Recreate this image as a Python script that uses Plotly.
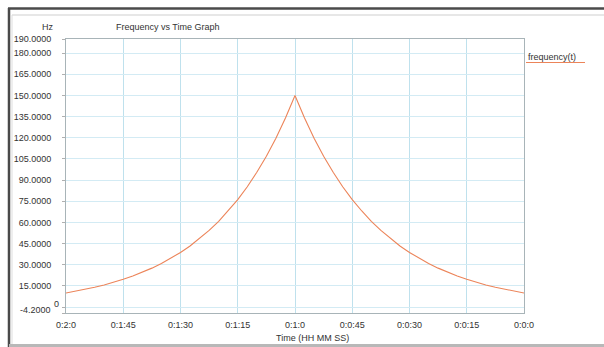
import plotly.graph_objects as go

# ---- data ----
time_s = [0, 2.5, 5, 7.5, 10, 12.5, 15, 17.5, 20, 22.5, 25, 27.5, 30, 32.5, 35, 37.5,
          40, 42.5, 45, 47.5, 50, 52.5, 55, 57.5, 60, 62.5, 65, 67.5, 70, 72.5, 75,
          77.5, 80, 82.5, 85, 87.5, 90, 92.5, 95, 97.5, 100, 102.5, 105, 107.5, 110,
          112.5, 115, 117.5, 120]
freq_hz = [10.0, 11.2, 12.5, 14.0, 15.7, 17.6, 19.7, 22.0, 24.6, 27.6, 30.9, 34.6,
           38.7, 43.3, 48.5, 54.3, 60.8, 68.1, 76.2, 85.3, 95.5, 106.9, 119.7, 134.0,
           150.0, 134.0, 119.7, 106.9, 95.5, 85.3, 76.2, 68.1, 60.8, 54.3, 48.5, 43.3,
           38.7, 34.6, 30.9, 27.6, 24.6, 22.0, 19.7, 17.6, 15.7, 14.0, 12.5, 11.2, 10.0]
x_tick_vals = [0, 15, 30, 45, 60, 75, 90, 105, 120]
x_tick_text = ["0:0:0", "0:0:15", "0:0:30", "0:0:45", "0:1:0", "0:1:15", "0:1:30", "0:1:45", "0:2:0"]
y_tick_vals = [190, 180, 165, 150, 135, 120, 105, 90, 75, 60, 45, 30, 15, 0, -4.2]
y_tick_text = ["190.0000", "180.0000", "165.0000", "150.0000", "135.0000", "120.0000",
               "105.0000", "90.0000", "75.0000", "60.0000", "45.0000", "30.0000",
               "15.0000", "", ""]
series_name = "frequency(t)"

W, H = 604, 347
L, R, T, B = 66, 524, 39, 313
FONT = "Liberation Sans, Arial, sans-serif"
TXT = "#333333"
LINE = "#ec8459"


def px(x):
    return (x - L) / (R - L)


def py(y):
    return (B - y) / (B - T)


fig = go.Figure()
fig.add_trace(go.Scatter(x=time_s, y=freq_hz, mode="lines", name=series_name,
                         line=dict(color=LINE, width=1.1), showlegend=False))

fig.update_layout(
    width=W, height=H,
    margin=dict(l=L, r=W - R, t=T, b=H - B, pad=0),
    paper_bgcolor="white", plot_bgcolor="white",
    font=dict(family=FONT, size=9, color=TXT),
)
fig.update_xaxes(range=[120, 0], tickvals=x_tick_vals, ticktext=x_tick_text,
                 showgrid=True, gridcolor="#bfe1ed", gridwidth=1,
                 showline=True, linecolor="#a8b4b8", linewidth=1, mirror=True,
                 ticks="", ticklabelstandoff=3, zeroline=False,
                 tickfont=dict(size=9, color=TXT))
fig.update_yaxes(range=[-4.2, 190], tickvals=y_tick_vals, ticktext=y_tick_text,
                 showgrid=True, gridcolor="#d3ebf4", gridwidth=1,
                 showline=True, linecolor="#a8b4b8", linewidth=1, mirror=True,
                 ticks="outside", ticklen=3, tickcolor="#b0b0b0",
                 ticklabelstandoff=9, zeroline=False,
                 tickfont=dict(size=9, color=TXT))

ann = [
    dict(text="Frequency vs Time Graph", x=px(168), y=py(27)),
    dict(text="Hz", x=px(48), y=py(27)),
    dict(text="Time (HH MM SS)", x=px(312), y=py(338)),
    dict(text="-4.2000", x=px(53), y=py(310), xanchor="right"),
    dict(text="0", x=px(52), y=py(304), xanchor="left"),
    dict(text=series_name, x=px(526), y=py(57), xanchor="left"),
]
for a in ann:
    a.setdefault("xanchor", "center")
    fig.add_annotation(xref="paper", yref="paper", showarrow=False,
                       yanchor="middle", font=dict(family=FONT, size=9, color=TXT), **a)

shapes = [
    # legend underline
    dict(x0=px(526), x1=px(585), y0=py(62.5), y1=py(62.5), line=dict(color=LINE, width=1)),
    # outer frame (dark)
    dict(x0=px(8), x1=px(604), y0=py(8.5), y1=py(8.5), line=dict(color="#4a4a4a", width=2.5)),
    dict(x0=px(9), x1=px(9), y0=py(8), y1=py(347), line=dict(color="#4a4a4a", width=2.5)),
    # inner frame (light gray)
    dict(x0=px(12), x1=px(604), y0=py(15), y1=py(15), line=dict(color="#cfcfcf", width=1)),
    dict(x0=px(12), x1=px(12), y0=py(15), y1=py(344), line=dict(color="#dddddd", width=1)),
    dict(x0=px(9), x1=px(604), y0=py(345.5), y1=py(345.5), line=dict(color="#b8b8b8", width=3)),
]
for s in shapes:
    fig.add_shape(type="line", xref="paper", yref="paper", **s)

fig.write_html("out.html")
